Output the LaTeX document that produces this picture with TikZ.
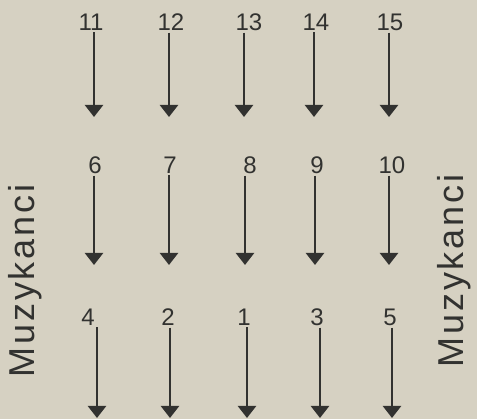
\documentclass[tikz,border=0pt]{standalone}
\usepackage{fontspec}
\setmainfont{Liberation Sans}
\usetikzlibrary{arrows.meta}
\definecolor{paper}{RGB}{214,209,194}
\definecolor{ink}{RGB}{50,50,48}

\begin{document}
\begin{tikzpicture}[x=1pt, y=-1pt,
    every node/.style={font=\fontsize{24}{24}\selectfont, text=ink, inner sep=0pt},
    seat/.style={draw=ink, line width=2.3pt, shorten <=2pt, -{Triangle[width=18pt,length=12pt]}},
    side/.style={rotate=90, font=\fontsize{36}{36}\selectfont\addfontfeature{LetterSpace=8}}]
  \fill[paper] (0,0) rectangle (477,419);
  \useasboundingbox (0,0) rectangle (477,419);
  % back row
  \foreach \i/\x/\lx in {11/94/91,12/169/171,13/244/249,14/314/316,15/389/390}{
    \node (n\i) at (\lx,22) {\i};
    \coordinate (e\i) at (\x,117);
    \draw[seat] (n\i.south -| e\i) -- (e\i);
  }
  % middle row
  \foreach \i/\x/\lx in {6/94/95,7/169/170,8/245/250,9/315/317,10/389/392}{
    \node (n\i) at (\lx,165) {\i};
    \coordinate (e\i) at (\x,265);
    \draw[seat] (n\i.south -| e\i) -- (e\i);
  }
  % front row
  \foreach \i/\x/\lx in {4/97/88,2/170/168,1/247/244,3/320/317,5/392/390}{
    \node (n\i) at (\lx,317) {\i};
    \coordinate (e\i) at (\x,418);
    \draw[seat] (n\i.south -| e\i) -- (e\i);
  }
  \node[side] (muzL) at (25,281) {Muzykanci};
  \node[side] (muzR) at (454,271) {Muzykanci};
\end{tikzpicture}
\end{document}
